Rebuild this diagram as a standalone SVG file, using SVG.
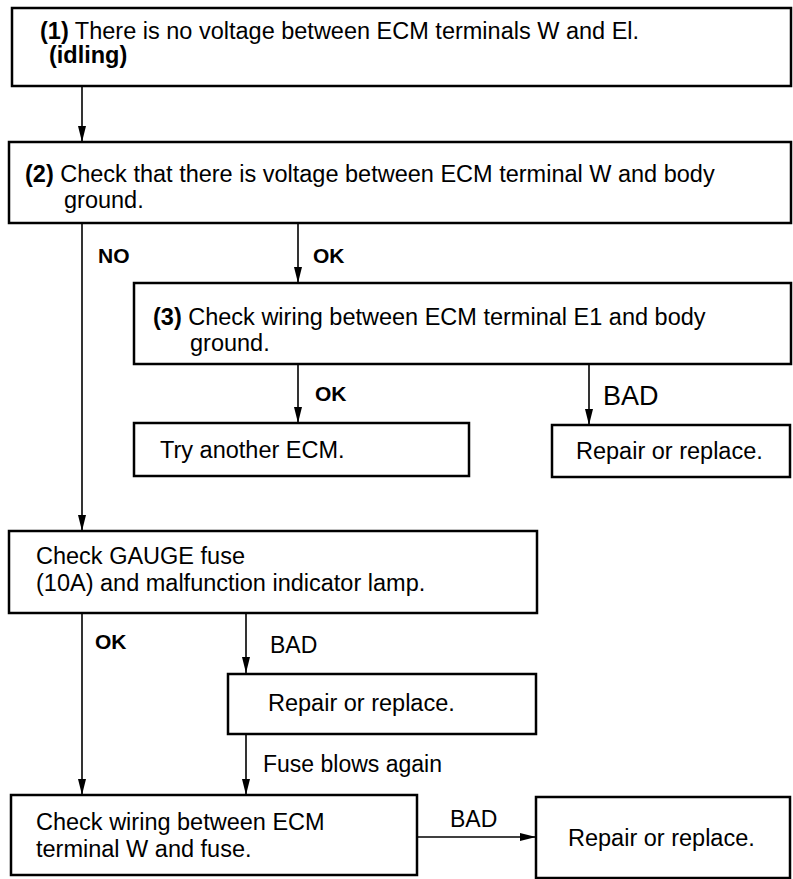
<svg xmlns="http://www.w3.org/2000/svg" width="793" height="879" viewBox="0 0 793 879">
<defs>
<style>
.box{fill:#fff;stroke:#000;stroke-width:2.5}
.t{font-family:"Liberation Sans",Arial,sans-serif;font-size:23.5px;fill:#000}
.b{font-weight:bold}
.lbl{font-family:"Liberation Sans",Arial,sans-serif;font-size:21px;font-weight:bold;fill:#000}
.lr{font-family:"Liberation Sans",Arial,sans-serif;fill:#000}
.c{fill:none;stroke:#000;stroke-width:1.6}
</style>
<marker id="ah" viewBox="0 0 16 8" refX="16" refY="4" markerWidth="16" markerHeight="8" markerUnits="userSpaceOnUse" orient="auto">
<path d="M0,0 L16,4 L0,8 Z" fill="#000"/>
</marker>
</defs>
<rect width="793" height="879" fill="#fff"/>
<g id="connectors">
<line class="c" x1="82" y1="86" x2="82" y2="142" marker-end="url(#ah)"/>
<line class="c" x1="82" y1="223" x2="82" y2="531" marker-end="url(#ah)"/>
<line class="c" x1="298" y1="223" x2="298" y2="283" marker-end="url(#ah)"/>
<line class="c" x1="298" y1="364" x2="298" y2="423" marker-end="url(#ah)"/>
<line class="c" x1="589" y1="364" x2="589" y2="425" marker-end="url(#ah)"/>
<line class="c" x1="82" y1="613" x2="82" y2="795" marker-end="url(#ah)"/>
<line class="c" x1="246" y1="613" x2="246" y2="673" marker-end="url(#ah)"/>
<line class="c" x1="246" y1="734" x2="246" y2="795" marker-end="url(#ah)"/>
<line class="c" x1="417" y1="837" x2="536" y2="837" marker-end="url(#ah)"/>
<text class="lbl" x="98" y="263">NO</text>
<text class="lbl" x="313" y="263">OK</text>
<text class="lbl" x="315" y="401">OK</text>
<text class="lr" x="603" y="405" font-size="27">BAD</text>
<text class="lbl" x="95" y="649">OK</text>
<text class="lr" x="270" y="653" font-size="23">BAD</text>
<text class="lr" x="263" y="772" font-size="23">Fuse blows again</text>
<text class="lr" x="450" y="827" font-size="23">BAD</text>
</g>
<g id="n1">
<rect class="box" x="12" y="8" width="779" height="78"/>
<text class="t" x="40" y="39"><tspan class="b">(1)</tspan> There is no voltage between ECM terminals W and El.</text>
<text class="t b" x="49" y="63">(idling)</text>
</g>
<g id="n2">
<rect class="box" x="9" y="142" width="782" height="81"/>
<text class="t" x="25" y="182"><tspan class="b">(2)</tspan> Check that there is voltage between ECM terminal W and body</text>
<text class="t" x="64" y="208">ground.</text>
</g>
<g id="n3">
<rect class="box" x="134" y="283" width="657" height="81"/>
<text class="t" x="153" y="325"><tspan class="b">(3)</tspan> Check wiring between ECM terminal E1 and body</text>
<text class="t" x="190" y="351">ground.</text>
</g>
<g id="n4">
<rect class="box" x="134" y="423" width="335" height="53"/>
<text class="t" x="160" y="458">Try another ECM.</text>
</g>
<g id="n5">
<rect class="box" x="552" y="425" width="238" height="52"/>
<text class="t" x="576" y="459">Repair or replace.</text>
</g>
<g id="n6">
<rect class="box" x="9" y="531" width="528" height="82"/>
<text class="t" x="36" y="564">Check GAUGE fuse</text>
<text class="t" x="36" y="591">(10A) and malfunction indicator lamp.</text>
</g>
<g id="n7">
<rect class="box" x="228" y="674" width="308" height="60"/>
<text class="t" x="268" y="711">Repair or replace.</text>
</g>
<g id="n8">
<rect class="box" x="11" y="795" width="406" height="80"/>
<text class="t" x="36" y="830">Check wiring between ECM</text>
<text class="t" x="36" y="857">terminal W and fuse.</text>
</g>
<g id="n9">
<rect class="box" x="536" y="797" width="254" height="81"/>
<text class="t" x="568" y="846">Repair or replace.</text>
</g>
</svg>
